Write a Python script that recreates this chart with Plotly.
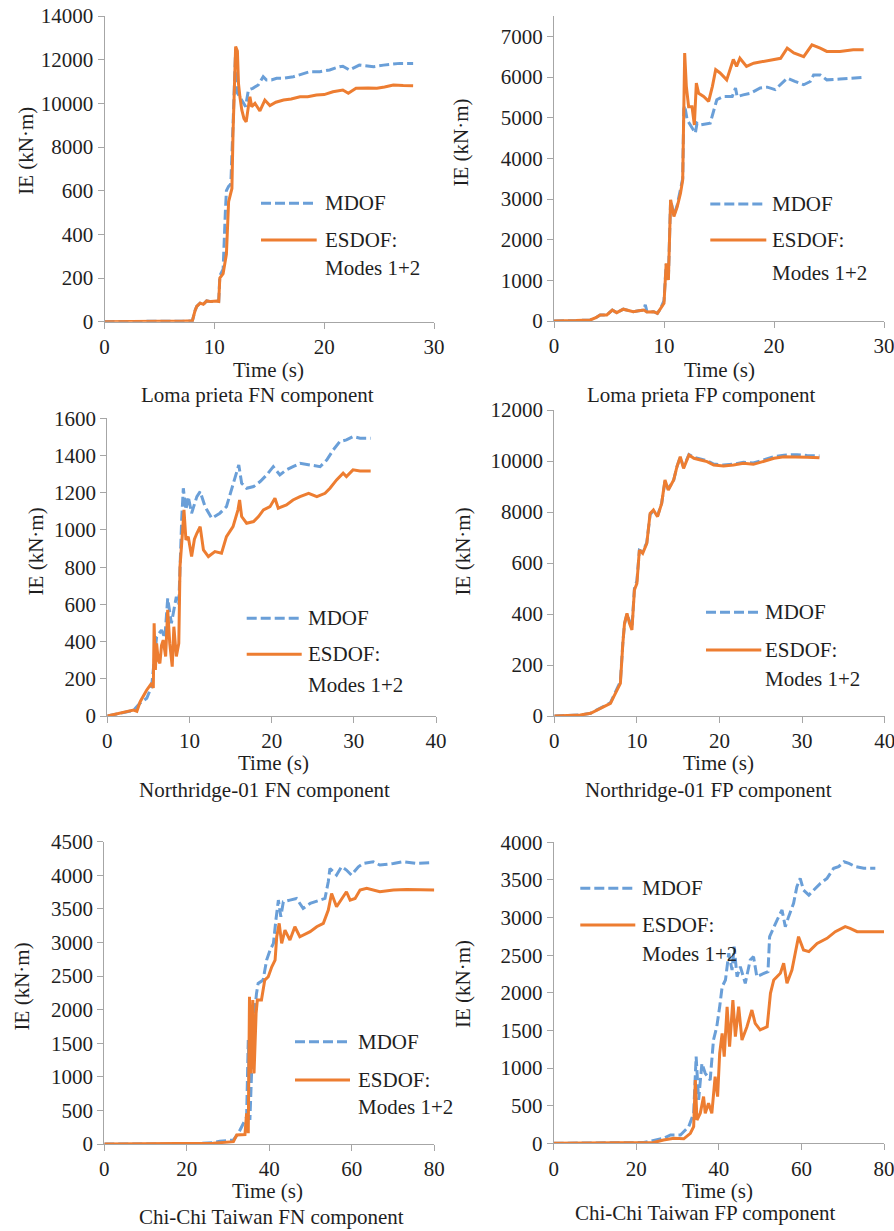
import plotly.graph_objects as go

W, H = 894, 1231

# ---------------- data ----------------
# Loma prieta FN
LP_FN_MDOF_T = [0, 2, 3, 5, 7, 8.0, 8.24, 8.4, 8.7, 9.0, 9.3, 9.7, 10.2, 10.4, 10.5, 10.8, 11.0, 11.1, 11.3, 11.5, 11.7, 11.8, 11.94, 12.03, 12.3, 12.85, 13.1, 13.5, 14.0, 14.45, 14.75, 15.2, 15.67, 16.3, 17.2, 17.8, 18.7, 19.6, 20.5, 21.4, 21.7, 22.3, 23.2, 24.5, 25.4, 26.9, 28.1]
LP_FN_MDOF_IE = [0, 20, 30, 20, 20, 40, 500, 700, 850, 800, 950, 920, 950, 950, 2100, 2400, 5000, 6000, 6200, 6300, 9000, 10700, 12500, 10530, 10300, 9850, 10610, 10690, 10840, 11220, 11070, 11070, 11150, 11150, 11220, 11300, 11450, 11450, 11530, 11680, 11700, 11530, 11750, 11680, 11750, 11830, 11830]
LP_FN_ESDOF_T = [0, 2, 3, 5, 7, 8.0, 8.24, 8.4, 8.7, 9.0, 9.3, 9.7, 10.2, 10.4, 10.5, 10.8, 11.1, 11.3, 11.45, 11.6, 11.7, 11.8, 11.94, 12.1, 12.2, 12.33, 12.5, 12.7, 12.9, 13.1, 13.24, 13.4, 13.7, 14.15, 14.6, 15.06, 15.6, 16.3, 17.0, 17.8, 18.5, 19.3, 20.0, 20.8, 21.7, 22.2, 22.9, 24.0, 24.8, 25.5, 26.3, 27.2, 28.1]
LP_FN_ESDOF_IE = [0, 20, 30, 20, 20, 40, 500, 700, 850, 800, 950, 920, 950, 930, 2000, 2200, 3100, 5500, 5800, 6100, 8600, 10400, 12600, 12400, 10900, 10300, 9700, 9300, 9150, 9850, 10300, 9850, 10000, 9650, 10150, 9900, 10050, 10150, 10200, 10300, 10300, 10380, 10400, 10530, 10610, 10460, 10690, 10700, 10690, 10750, 10840, 10820, 10810]

# Loma prieta FP
LP_FP_MDOF_T = [0, 1, 2, 3.3, 3.8, 4.2, 4.8, 5.3, 5.7, 6.3, 6.8, 7.2, 7.7, 8.15, 8.3, 8.45, 9.06, 9.4, 9.7, 10.0, 10.2, 10.4, 10.6, 10.9, 11.2, 11.5, 11.7, 11.8, 11.88, 12.1, 12.55, 12.85, 13.0, 13.3, 14.2, 14.5, 14.8, 15.4, 16.2, 16.5, 16.65, 17.2, 17.85, 18.75, 19.4, 20.1, 20.6, 21.2, 21.9, 22.7, 23.3, 23.6, 24.2, 24.8, 26.0, 28.15]
LP_FP_MDOF_IE = [0, 0, 10, 25, 80, 150, 150, 270, 205, 290, 250, 230, 250, 270, 400, 230, 230, 190, 310, 500, 1400, 1050, 2980, 2600, 2850, 3200, 3500, 5200, 5300, 4950, 4740, 4620, 4865, 4820, 4865, 5190, 5440, 5520, 5520, 5730, 5520, 5560, 5600, 5730, 5750, 5690, 5810, 5970, 5890, 5810, 5890, 6050, 6050, 5930, 5950, 5990]
LP_FP_ESDOF_T = [0, 1, 2, 3.3, 3.8, 4.2, 4.8, 5.3, 5.7, 6.3, 6.8, 7.2, 7.7, 8.15, 8.45, 9.06, 9.4, 9.7, 10.0, 10.2, 10.4, 10.6, 10.9, 11.2, 11.5, 11.7, 11.8, 11.88, 12.03, 12.24, 12.55, 12.76, 12.94, 13.15, 13.6, 14.06, 14.4, 14.7, 15.1, 15.7, 16.3, 16.6, 16.9, 17.5, 18.15, 19.06, 20.0, 20.6, 21.2, 21.8, 22.7, 23.45, 24.2, 24.8, 26.0, 27.2, 28.15]
LP_FP_ESDOF_IE = [0, 0, 10, 25, 80, 150, 150, 270, 205, 290, 250, 230, 250, 270, 220, 230, 190, 310, 435, 1420, 1010, 2980, 2570, 2810, 3140, 3470, 5440, 6590, 5770, 5270, 5270, 4820, 5850, 5600, 5520, 5400, 5770, 6180, 6100, 5930, 6430, 6260, 6460, 6260, 6340, 6380, 6420, 6460, 6710, 6590, 6500, 6790, 6710, 6630, 6630, 6670, 6670]

# Northridge-01 FN
NR_FN_MDOF_T = [0, 1, 1.95, 3.2, 4.0, 4.8, 5.4, 5.7, 6.0, 6.6, 7.0, 7.35, 7.8, 8.4, 8.7, 9.05, 9.25, 9.57, 9.85, 10.26, 10.9, 11.3, 11.9, 12.7, 13.7, 14.5, 15.3, 16.0, 16.35, 16.95, 17.8, 18.6, 19.4, 20.2, 21.0, 21.8, 22.6, 23.45, 24.7, 25.9, 26.7, 27.5, 28.3, 29.1, 29.9, 30.75, 32.05]
NR_FN_MDOF_IE = [0, 10, 20, 30, 70, 95, 160, 300, 426, 462, 420, 632, 498, 641, 600, 1054, 1224, 1108, 1179, 1090, 1179, 1206, 1125, 1063, 1090, 1125, 1251, 1349, 1251, 1224, 1233, 1260, 1296, 1340, 1296, 1323, 1340, 1358, 1349, 1340, 1376, 1430, 1475, 1484, 1502, 1493, 1493]
NR_FN_ESDOF_T = [0, 1, 1.95, 2.8, 3.2, 3.6, 4.0, 4.8, 5.4, 5.6, 5.7, 5.85, 6.0, 6.2, 6.4, 6.6, 6.8, 7.1, 7.35, 7.6, 7.9, 8.1, 8.4, 8.7, 8.85, 9.2, 9.33, 9.57, 9.85, 10.26, 10.6, 10.9, 11.3, 11.7, 12.3, 13.1, 13.9, 14.5, 15.3, 15.9, 16.1, 16.35, 16.95, 17.8, 18.4, 19.0, 19.8, 20.4, 20.8, 21.8, 22.6, 23.45, 24.5, 25.5, 26.5, 27.1, 27.9, 28.7, 29.1, 29.9, 30.75, 32.05]
NR_FN_ESDOF_IE = [0, 10, 23, 30, 32, 25, 77, 140, 176, 150, 498, 247, 390, 300, 283, 380, 408, 320, 570, 390, 265, 480, 320, 390, 803, 1018, 1108, 946, 964, 857, 950, 982, 1018, 893, 857, 884, 875, 964, 1018, 1108, 1161, 1072, 1036, 1045, 1072, 1108, 1125, 1170, 1117, 1134, 1161, 1179, 1197, 1179, 1197, 1224, 1269, 1305, 1287, 1323, 1317, 1317]

# Northridge-01 FP
NR_FP_MDOF_T = [0, 2, 3.15, 4.4, 5.2, 6.0, 6.8, 7.2, 7.6, 8.0, 8.3, 8.5, 8.8, 9.1, 9.4, 9.7, 10.0, 10.3, 10.7, 11.2, 11.6, 12.0, 12.5, 13.0, 13.4, 13.8, 14.45, 14.85, 15.25, 15.65, 16.3, 16.9, 17.7, 18.5, 19.3, 20.5, 21.7, 22.9, 24.1, 25.3, 26.6, 27.8, 29.4, 30.6, 32.1]
NR_FP_MDOF_IE = [0, 10, 40, 110, 250, 380, 520, 800, 1100, 1350, 2900, 3600, 4000, 3700, 3450, 5000, 5300, 6500, 6450, 6800, 7900, 8050, 7850, 8350, 9200, 8900, 9250, 9780, 10150, 9760, 10250, 10150, 10080, 10010, 9880, 9840, 9880, 9950, 9920, 10030, 10170, 10230, 10250, 10220, 10200]
NR_FP_ESDOF_T = [0, 2, 3.15, 4.4, 5.2, 6.0, 6.8, 7.2, 7.6, 8.0, 8.3, 8.5, 8.8, 9.1, 9.4, 9.7, 10.0, 10.3, 10.7, 11.2, 11.6, 12.0, 12.5, 13.0, 13.4, 13.8, 14.45, 14.85, 15.25, 15.65, 16.3, 16.9, 17.7, 18.5, 19.3, 20.5, 21.7, 22.9, 24.1, 25.3, 26.6, 27.8, 29.4, 30.6, 32.1]
NR_FP_ESDOF_IE = [0, 10, 40, 105, 235, 366, 497, 758, 1020, 1281, 2850, 3634, 4026, 3634, 3372, 4941, 5203, 6510, 6379, 6771, 7948, 8078, 7817, 8340, 9255, 8863, 9255, 9778, 10170, 9712, 10235, 10105, 10039, 9974, 9843, 9804, 9843, 9908, 9869, 9974, 10105, 10170, 10170, 10150, 10131]

# Chi-Chi Taiwan FN
CC_FN_MDOF_T = [0, 10, 20, 26.4, 28, 31.3, 32.5, 34.5, 34.9, 35.3, 36.1, 36.9, 37.3, 38.5, 39.35, 40.2, 41.0, 41.6, 42.2, 42.8, 43.4, 45.0, 46.6, 48.2, 49.9, 52.3, 53.5, 54.3, 54.7, 56.3, 57.5, 58.7, 59.9, 61.6, 62.8, 65.2, 66.8, 70.1, 72.5, 75.7, 79.4]
CC_FN_MDOF_IE = [0, 0, 0, 20, 40, 60, 160, 400, 1548, 357, 1746, 2242, 2391, 2440, 2738, 2887, 2986, 3334, 3631, 3383, 3606, 3631, 3655, 3507, 3581, 3631, 3655, 3904, 4102, 4004, 4127, 4078, 4004, 4127, 4177, 4202, 4152, 4177, 4202, 4177, 4187]
CC_FN_ESDOF_T = [0, 10, 20, 26.4, 28, 31.3, 32.1, 34.1, 34.5, 34.9, 35.2, 35.5, 36.0, 36.3, 36.8, 37.1, 38.1, 38.9, 39.75, 40.6, 41.4, 41.8, 42.4, 43.0, 43.8, 45.0, 46.2, 47.4, 49.9, 51.5, 53.1, 54.3, 55.1, 56.3, 57.9, 58.7, 59.6, 60.8, 62.0, 63.6, 66.8, 70.1, 73.3, 76.5, 80.0]
CC_FN_ESDOF_IE = [0, 0, 0, 10, 20, 35, 134, 140, 456, 160, 2192, 1051, 2143, 1051, 1944, 2143, 2143, 2440, 2490, 2639, 2738, 3085, 3284, 2986, 3184, 3036, 3234, 3085, 3160, 3234, 3284, 3482, 3730, 3532, 3681, 3755, 3631, 3655, 3780, 3805, 3755, 3780, 3790, 3780, 3780]

# Chi-Chi Taiwan FP
CC_FP_MDOF_T = [0, 10, 21.8, 26.6, 28.3, 30.7, 32.7, 33.9, 34.5, 35.1, 35.9, 36.7, 37.9, 38.7, 39.5, 40.2, 40.8, 41.6, 42.4, 43.2, 43.7, 44.4, 45.2, 46.4, 47.6, 48.4, 49.2, 50.9, 51.9, 52.3, 53.3, 54.1, 55.3, 56.1, 56.9, 58.1, 58.9, 59.7, 60.5, 61.8, 63.0, 64.6, 66.2, 67.8, 69.0, 70.3, 71.5, 73.1, 75.1, 77.9]
CC_FP_MDOF_IE = [0, 0, 10, 66, 111, 111, 221, 399, 1151, 576, 1063, 930, 841, 1373, 1550, 1815, 2081, 2170, 2525, 2303, 2613, 2214, 2347, 2126, 2436, 2480, 2214, 2259, 2281, 2746, 2879, 2967, 3100, 2879, 3012, 3189, 3410, 3521, 3366, 3299, 3366, 3454, 3521, 3654, 3676, 3742, 3720, 3676, 3654, 3654]
CC_FP_ESDOF_T = [0, 10, 20, 24.2, 26.6, 29.1, 31.5, 33.1, 33.9, 34.3, 34.7, 35.5, 36.3, 36.7, 37.5, 38.3, 39.1, 39.7, 40.2, 40.8, 41.3, 42.0, 42.6, 43.4, 44.0, 44.8, 45.6, 46.8, 48.0, 48.8, 50.0, 51.7, 52.5, 53.3, 54.9, 55.7, 56.5, 57.7, 58.5, 59.3, 60.5, 61.8, 63.8, 66.2, 68.2, 70.6, 71.8, 73.5, 75.9, 80.0]
CC_FP_ESDOF_IE = [0, 0, 0, 10, 44, 66, 60, 133, 221, 841, 310, 399, 620, 399, 531, 399, 886, 620, 1196, 1461, 1151, 1815, 1284, 1904, 1417, 1815, 1373, 1550, 1771, 1594, 1506, 1550, 1993, 2170, 2259, 2392, 2126, 2303, 2525, 2746, 2569, 2547, 2657, 2724, 2812, 2879, 2857, 2812, 2812, 2812]

# tick labels (as printed in the original figure)
LP_FN_YTICKS = [0, 2000, 4000, 6000, 8000, 10000, 12000, 14000]
LP_FN_YTEXT = ["0", "200", "400", "600", "8000", "10000", "12000", "14000"]
LP_FP_YTICKS = [0, 1000, 2000, 3000, 4000, 5000, 6000, 7000]
LP_FP_YTEXT = ["0", "1000", "2000", "3000", "4000", "5000", "6000", "7000"]
NR_FN_YTICKS = [0, 200, 400, 600, 800, 1000, 1200, 1400, 1600]
NR_FN_YTEXT = ["0", "200", "400", "600", "800", "1000", "1200", "1400", "1600"]
NR_FP_YTICKS = [0, 2000, 4000, 6000, 8000, 10000, 12000]
NR_FP_YTEXT = ["0", "200", "400", "600", "8000", "10000", "12000"]
CC_FN_YTICKS = [0, 500, 1000, 1500, 2000, 2500, 3000, 3500, 4000, 4500]
CC_FN_YTEXT = [str(v) for v in CC_FN_YTICKS]
CC_FP_YTICKS = [0, 500, 1000, 1500, 2000, 2500, 3000, 3500, 4000]
CC_FP_YTEXT = [str(v) for v in CC_FP_YTICKS]

TITLES = ["Loma prieta FN component", "Loma prieta FP component",
          "Northridge-01 FN component", "Northridge-01 FP component",
          "Chi-Chi Taiwan FN component", "Chi-Chi Taiwan FP component"]
SERIES_NAMES = ["MDOF", "ESDOF:<br>Modes 1+2"]

# ---------------- styling / layout ----------------
BLUE = "#6A9FD8"
ORANGE = "#ED7D31"
AXIS = "#A6A6A6"
TXT = "#1F1F1F"
FONT = "Liberation Serif, Times New Roman, DejaVu Serif, serif"
FS = 21

def fx(px):
    return px / W

def fy(py):
    return 1 - py / H

panels = [
    dict(mt=LP_FN_MDOF_T, mv=LP_FN_MDOF_IE, et=LP_FN_ESDOF_T, ev=LP_FN_ESDOF_IE,
         yt=LP_FN_YTICKS, ytx=LP_FN_YTEXT, xr=[0, 30], xd=10, yr=[0, 14000],
         box=(104.5, 434, 321.7, 16),
         ytitle=(25.7, 151), xtitle=(268.7, 370), sub=(257.2, 395),
         leg=(261, 316.7, 203.3, 240, 268.3, 323)),
    dict(mt=LP_FP_MDOF_T, mv=LP_FP_MDOF_IE, et=LP_FP_ESDOF_T, ev=LP_FP_ESDOF_IE,
         yt=LP_FP_YTICKS, ytx=LP_FP_YTEXT, xr=[0, 30], xd=10, yr=[0, 7500],
         box=(554, 884, 321, 16),
         ytitle=(460, 142.5), xtitle=(719, 370), sub=(701.7, 395),
         leg=(710.3, 766.3, 204, 240, 272.7, 769.7)),
    dict(mt=NR_FN_MDOF_T, mv=NR_FN_MDOF_IE, et=NR_FN_ESDOF_T, ev=NR_FN_ESDOF_IE,
         yt=NR_FN_YTICKS, ytx=NR_FN_YTEXT, xr=[0, 40], xd=10, yr=[0, 1600],
         box=(107.3, 436, 716, 418.3),
         ytitle=(35.7, 551.7), xtitle=(273.8, 762.5), sub=(264.7, 790),
         leg=(246.7, 301.7, 618.3, 654.3, 685, 306)),
    dict(mt=NR_FP_MDOF_T, mv=NR_FP_MDOF_IE, et=NR_FP_ESDOF_T, ev=NR_FP_ESDOF_IE,
         yt=NR_FP_YTICKS, ytx=NR_FP_YTEXT, xr=[0, 40], xd=10, yr=[0, 12000],
         box=(554.3, 884.7, 716, 410),
         ytitle=(462.7, 551.7), xtitle=(718.3, 762.5), sub=(708, 790),
         leg=(706, 761.3, 612.3, 650, 679.3, 763)),
    dict(mt=CC_FN_MDOF_T, mv=CC_FN_MDOF_IE, et=CC_FN_ESDOF_T, ev=CC_FN_ESDOF_IE,
         yt=CC_FN_YTICKS, ytx=CC_FN_YTEXT, xr=[0, 80], xd=20, yr=[0, 4500],
         box=(104.3, 434.3, 1144, 841.7),
         ytitle=(21.7, 986.7), xtitle=(267.5, 1190.7), sub=(271.8, 1216.7),
         leg=(295, 350, 1041.7, 1080, 1107.3, 356)),
    dict(mt=CC_FP_MDOF_T, mv=CC_FP_MDOF_IE, et=CC_FP_ESDOF_T, ev=CC_FP_ESDOF_IE,
         yt=CC_FP_YTICKS, ytx=CC_FP_YTEXT, xr=[0, 80], xd=20, yr=[0, 4000],
         box=(553.7, 884, 1143.3, 842.3),
         ytitle=(463, 984), xtitle=(717, 1190.7), sub=(705.3, 1212.7),
         leg=(580.3, 635.3, 888.3, 925, 954.3, 639.7)),
]

fig = go.Figure()
layout = dict(width=W, height=H, autosize=False,
              margin=dict(l=0, r=0, t=0, b=0),
              paper_bgcolor="white", plot_bgcolor="white",
              showlegend=False, font=dict(family=FONT, size=FS, color=TXT))
annotations = []
shapes = []

for i, p in enumerate(panels, start=1):
    sfx = "" if i == 1 else str(i)
    xa, ya = "x" + sfx, "y" + sfx
    fig.add_trace(go.Scatter(x=p["mt"], y=p["mv"], mode="lines", name=SERIES_NAMES[0],
                             line=dict(color=BLUE, width=3, dash="10px,4px"),
                             xaxis=xa, yaxis=ya))
    fig.add_trace(go.Scatter(x=p["et"], y=p["ev"], mode="lines", name=SERIES_NAMES[1],
                             line=dict(color=ORANGE, width=3),
                             xaxis=xa, yaxis=ya))
    x0, x1, yb, ytop = p["box"]
    common = dict(showgrid=False, zeroline=False, showline=True, linecolor=AXIS,
                  linewidth=1, ticks="outside", ticklen=6, tickcolor=AXIS,
                  tickwidth=1, automargin=False, ticklabeloverflow="allow",
                  tickfont=dict(family=FONT, size=FS, color=TXT))
    layout["xaxis" + sfx] = dict(common, domain=[fx(x0), fx(x1)], range=p["xr"],
                                 anchor=ya, dtick=p["xd"], tick0=0)
    layout["yaxis" + sfx] = dict(common, domain=[fy(yb), fy(ytop)], range=p["yr"],
                                 anchor=xa, tickmode="array", tickvals=p["yt"],
                                 ticktext=p["ytx"])
    # axis titles and panel caption
    tx, ty = p["ytitle"]
    annotations.append(dict(text="IE (kN·m)", x=fx(tx), y=fy(ty), xref="paper", yref="paper",
                            textangle=-90, showarrow=False, xanchor="center", yanchor="middle"))
    tx, ty = p["xtitle"]
    annotations.append(dict(text="Time (s)", x=fx(tx), y=fy(ty), xref="paper", yref="paper",
                            showarrow=False, xanchor="center", yanchor="middle"))
    tx, ty = p["sub"]
    annotations.append(dict(text=TITLES[i - 1], x=fx(tx), y=fy(ty), xref="paper", yref="paper",
                            showarrow=False, xanchor="center", yanchor="middle"))
    # legend drawn per panel
    lx0, lx1, ym, ye, ymod, tx0 = p["leg"]
    shapes.append(dict(type="line", xref="paper", yref="paper", x0=fx(lx0), x1=fx(lx1),
                       y0=fy(ym), y1=fy(ym), line=dict(color=BLUE, width=3, dash="10px,4px")))
    shapes.append(dict(type="line", xref="paper", yref="paper", x0=fx(lx0), x1=fx(lx1),
                       y0=fy(ye), y1=fy(ye), line=dict(color=ORANGE, width=3)))
    annotations.append(dict(text=SERIES_NAMES[0], x=fx(tx0), y=fy(ym), xref="paper", yref="paper",
                            showarrow=False, xanchor="left", yanchor="middle"))
    annotations.append(dict(text="ESDOF:", x=fx(tx0), y=fy(ye), xref="paper", yref="paper",
                            showarrow=False, xanchor="left", yanchor="middle"))
    annotations.append(dict(text="Modes 1+2", x=fx(tx0), y=fy(ymod), xref="paper", yref="paper",
                            showarrow=False, xanchor="left", yanchor="middle"))

layout["annotations"] = annotations
layout["shapes"] = shapes
fig.update_layout(**layout)
fig.write_html("out.html")
